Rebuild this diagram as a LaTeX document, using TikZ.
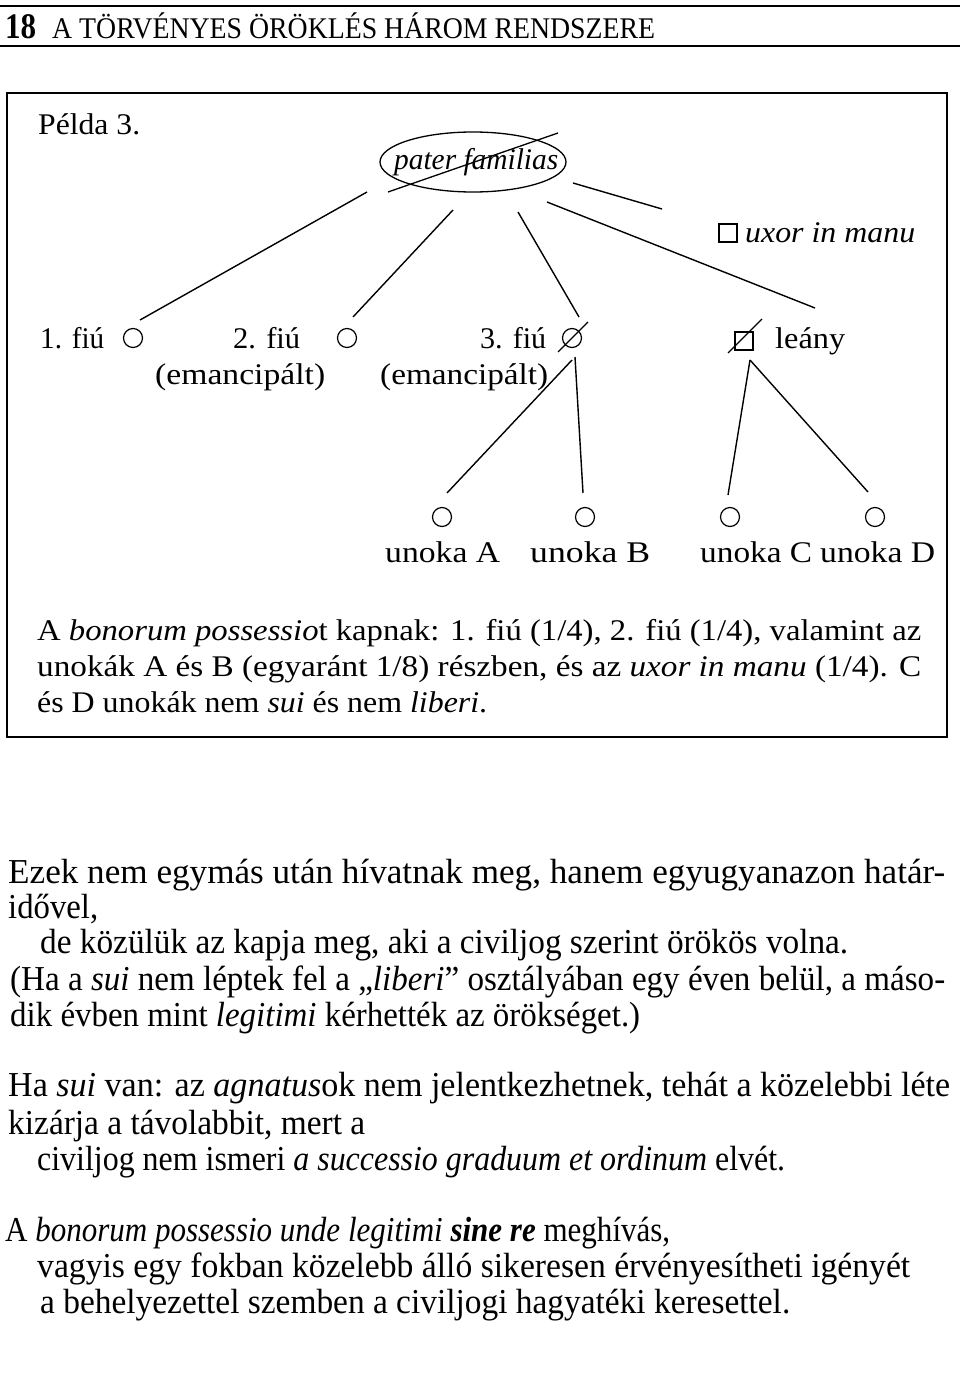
\documentclass[tikz,border=0pt]{standalone}
\usepackage{fontspec}
\setmainfont{Liberation Serif}
\usepackage{graphicx}
\usetikzlibrary{shapes.geometric}
\newlength\fitlen
\newcommand\fitto[2]{\settowidth\fitlen{#2}\edef\fitratio{\fpeval{(#1)/(\the\fitlen)}}\scalebox{\fitratio}[1]{#2}}
\tikzset{
  lbl/.style={font=\fontsize{30}{34}\selectfont, inner sep=0, anchor=base west},
  body/.style={font=\fontsize{35}{40}\selectfont, inner sep=0, anchor=base west},
  circ/.style={draw, circle, minimum size=19, inner sep=0, line width=1.2},
  sq/.style={draw, rectangle, minimum size=18, inner sep=0, line width=1.2},
  conn/.style={line width=1.4},
}
\begin{document}
\begin{tikzpicture}[x=1pt,y=-1pt]
\useasboundingbox (0,0) rectangle (960,1386);
% header
\draw[line width=2] (0,6) -- (960,6);
\draw[line width=2] (0,46) -- (960,46);
\node[inner sep=0, anchor=base west, font=\fontsize{36}{40}\selectfont\bfseries] (pg) at (5,39) {\fitto{31}{18}};
\node[inner sep=0, anchor=base west, font=\fontsize{30}{34}\selectfont] (hd) at (52,39) {\fitto{603}{A TÖRVÉNYES ÖRÖKLÉS HÁROM RENDSZERE}};
% box
\draw[line width=1.6] (7,93) rectangle (947,737);
\node[lbl] (pelda) at (38,135) {\fitto{102}{Példa 3.}};
% pater familias
\node[draw, ellipse, minimum width=186, minimum height=60, inner sep=0, line width=1.3] (pf) at (473,162) {};
\node[lbl, font=\fontsize{30}{34}\selectfont\itshape] (pft) at (394,169) {\fitto{164}{pater familias}};
\draw[line width=1.3] (388,192) -- (558,133);
% persons
\node[circ] (f1) at (133,338) {};
\node[circ] (f2) at (347,338) {};
\node[circ] (f3) at (572,338) {};
\draw[line width=1.2] (558,352) -- (588,322);
\node[sq] (ux) at (728,233) {};
\node[sq] (le) at (744,341) {};
\draw[line width=1.2] (728,353) -- (762,319);
\node[circ] (ua) at (442,517) {};
\node[circ] (ub) at (585,517) {};
\node[circ] (uc) at (730,517) {};
\node[circ] (ud) at (875,517) {};
% labels
\node[lbl] (f1t) at (40,348) {\fitto{64}{1. fiú}};
\node[lbl] (f2t) at (233,348) {\fitto{67}{2. fiú}};
\node[lbl] (f2e) at (155,384) {\fitto{170}{(emancipált)}};
\node[lbl] (f3t) at (480,348) {\fitto{66}{3. fiú}};
\node[lbl] (f3e) at (380,384) {\fitto{168}{(emancipált)}};
\node[lbl] (let) at (775,348) {\fitto{70}{leány}};
\node[lbl, font=\fontsize{30}{34}\selectfont\itshape] (uxt) at (745,242) {\fitto{170}{uxor in manu}};
\node[lbl] (uat) at (385,562) {\fitto{115}{unoka A}};
\node[lbl] (ubt) at (530,562) {\fitto{120}{unoka B}};
\node[lbl] (uct) at (700,562) {\fitto{112}{unoka C}};
\node[lbl] (udt) at (820,562) {\fitto{115}{unoka D}};
% connector end points
\coordinate (p1) at (367,192); \coordinate (q1) at (140,320);
\coordinate (p2) at (453,210); \coordinate (q2) at (353,317);
\coordinate (p3) at (518,212); \coordinate (q3) at (579,317);
\coordinate (p4) at (547,202); \coordinate (q4) at (815,308);
\coordinate (p5) at (573,183); \coordinate (q5) at (662,209);
\coordinate (r1) at (572,360); \coordinate (sa) at (447,493);
\coordinate (r2) at (575,357); \coordinate (sb) at (583,493);
\coordinate (r3) at (750,360); \coordinate (sc) at (728,495);
\coordinate (sd) at (868,492);
\draw[conn] (p1) -- (q1);
\draw[conn] (p2) -- (q2);
\draw[conn] (p3) -- (q3);
\draw[conn] (p4) -- (q4);
\draw[conn] (p5) -- (q5);
\draw[conn] (r1) -- (sa);
\draw[conn] (r2) -- (sb);
\draw[conn] (r3) -- (sc);
\draw[conn] (r3) -- (sd);
% box paragraph
\node[lbl] (b1) at (37,640) {\fitto{884}{A \textit{bonorum possessio}t kapnak: 1. fiú (1/4), 2. fiú (1/4), valamint az}};
\node[lbl] (b2) at (37,676) {\fitto{884}{unokák A és B (egyaránt 1/8) részben, és az \textit{uxor in manu} (1/4). C}};
\node[lbl] (b3) at (37,712) {\fitto{450}{és D unokák nem \textit{sui} és nem \textit{liberi}.}};
% lower text
\node[body] (l1) at (8,883) {\fitto{937}{Ezek nem egymás után hívatnak meg, hanem egyugyanazon határ-}};
\node[body] (l2) at (8,918) {\fitto{90}{idővel,}};
\node[body] (l3) at (40,953) {\fitto{808}{de közülük az kapja meg, aki a civiljog szerint örökös volna.}};
\node[body] (l4) at (10,990) {\fitto{935}{(Ha a \textit{sui} nem léptek fel a „\textit{liberi}” osztályában egy éven belül, a máso-}};
\node[body] (l5) at (10,1026) {\fitto{630}{dik évben mint \textit{legitimi} kérhették az örökséget.)}};
\node[body] (l6) at (8,1096) {\fitto{942}{Ha \textit{sui} van: az \textit{agnatus}ok nem jelentkezhetnek, tehát a közelebbi léte}};
\node[body] (l7) at (8,1134) {\fitto{357}{kizárja a távolabbit, mert a}};
\node[body] (l8) at (37,1170) {\fitto{748}{civiljog nem ismeri \textit{a successio graduum et ordinum} elvét.}};
\node[body] (l9) at (5,1241) {\fitto{665}{A \textit{bonorum possessio unde legitimi} \textit{\bfseries sine re} meghívás,}};
\node[body] (l10) at (37,1277) {\fitto{873}{vagyis egy fokban közelebb álló sikeresen érvényesítheti igényét}};
\node[body] (l11) at (40,1313) {\fitto{750}{a behelyezettel szemben a civiljogi hagyatéki keresettel.}};
\end{tikzpicture}
\end{document}
